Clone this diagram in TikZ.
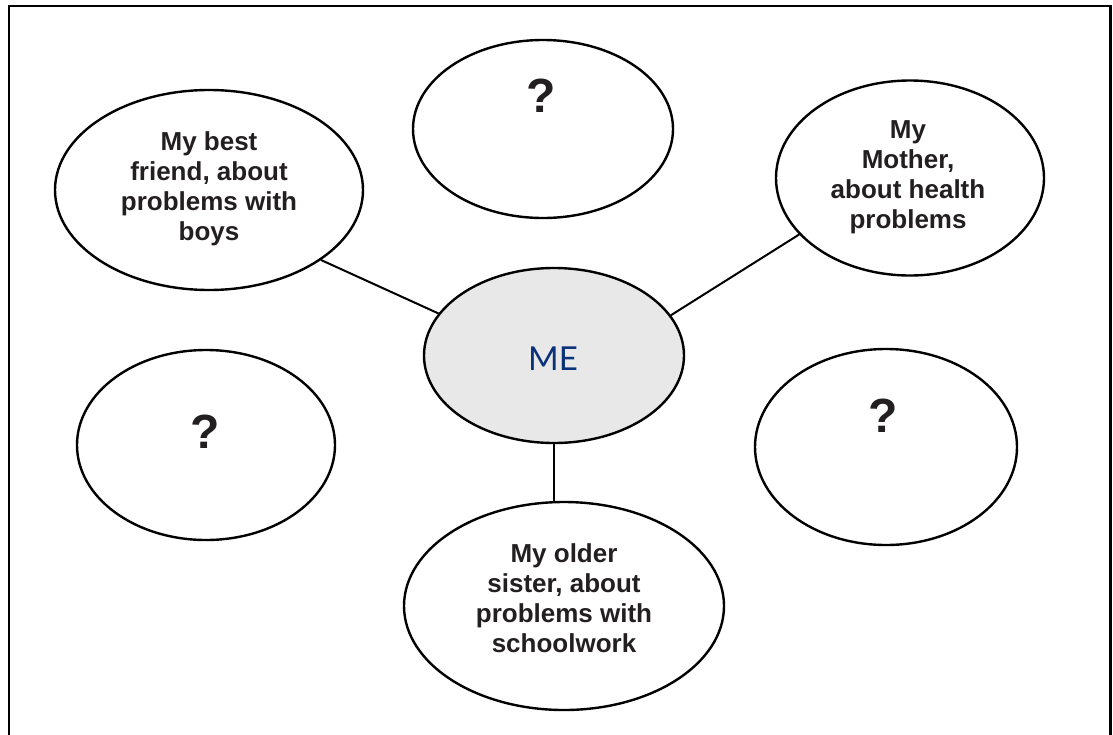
\documentclass[tikz,border=0pt]{standalone}
\usepackage{fontspec}
\setmainfont{Liberation Sans}
\newfontfamily\mefont{Lato}
\usetikzlibrary{shapes.geometric}
\definecolor{meblue}{RGB}{10,50,120}
\definecolor{mefill}{RGB}{232,232,232}
\definecolor{ink}{RGB}{35,31,32}
\begin{document}
\begin{tikzpicture}[x=1pt,y=-1pt,
  bubble/.style={draw=black, line width=2.4pt, ellipse, inner sep=0pt},
  bubbletext/.style={align=center, inner sep=0pt, text=ink,
    font=\fontsize{26}{30}\selectfont\bfseries},
  qmark/.style={inner sep=0pt, text=ink, font=\fontsize{48}{48}\selectfont\bfseries},
  metext/.style={inner sep=0pt, text=meblue, font=\mefont\fontsize{33}{33}\selectfont},
  link/.style={draw=black, line width=2pt},
  frame/.style={draw=black, line width=2.5pt}]
\useasboundingbox (0,0) rectangle (1113,734);
\draw[frame] (9,6) rectangle (1110.5,737);

% bubbles
\node[bubble, minimum width=308pt, minimum height=200pt] (friend) at (209,190) {};
\node[bubble, minimum width=260pt, minimum height=178pt] (topq) at (543,129) {};
\node[bubble, minimum width=268pt, minimum height=195pt] (mother) at (910,178) {};
\node[bubble, fill=mefill, minimum width=260pt, minimum height=175pt] (me) at (554,355.5) {};
\node[bubble, minimum width=258pt, minimum height=190pt] (leftq) at (206,445) {};
\node[bubble, minimum width=262pt, minimum height=196pt] (rightq) at (886,447) {};
\node[bubble, minimum width=320pt, minimum height=208pt] (sister) at (564,606) {};

% texts
\node[bubbletext] (friendtxt) at (209,189) {My best\\friend, about\\problems with\\boys};
\node[bubbletext] (mothertxt) at (908,177) {My\\Mother,\\about health\\problems};
\node[bubbletext] (sistertxt) at (564,598) {My older\\sister, about\\problems with\\schoolwork};
\node[qmark] (topqtxt) at (541,96) {?};
\node[qmark] (leftqtxt) at (205,432) {?};
\node[qmark] (rightqtxt) at (883,416) {?};
\node[metext] (metxt) at (553,359) {ME};

% connectors
\draw[link] (me.160.6) -- (friend.-32.7);
\draw[link] (me.19) -- (mother.207.4);
\draw[link] (me.south) -- (me.south |- sister.north);
\end{tikzpicture}
\end{document}
